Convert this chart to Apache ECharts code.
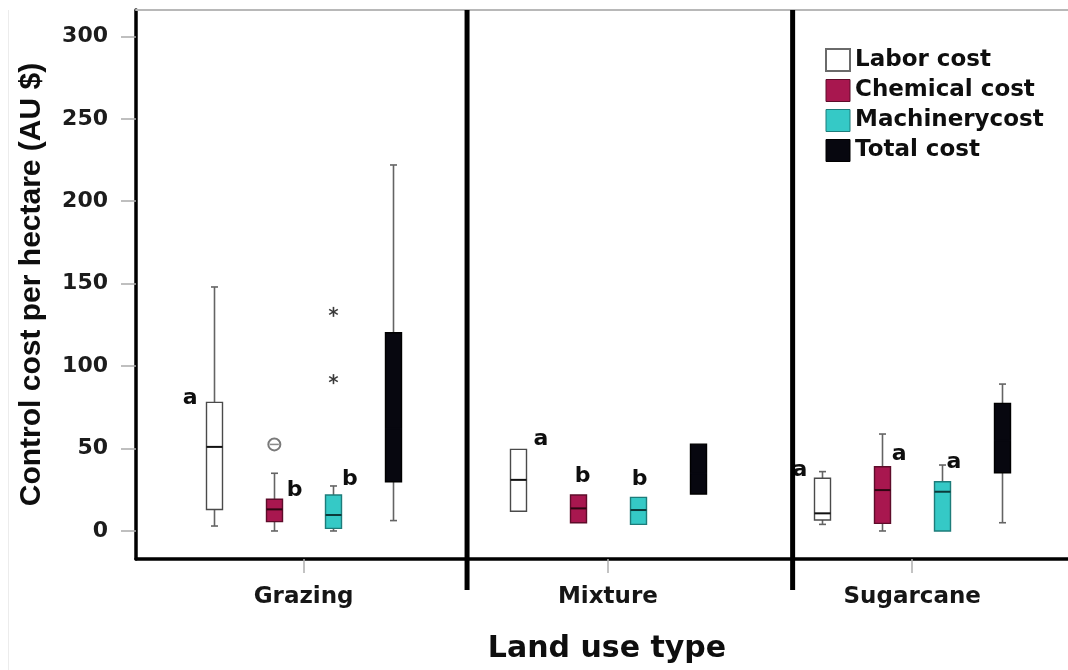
<!DOCTYPE html>
<html>
<head>
<meta charset="utf-8">
<script src="https://cdn.jsdelivr.net/npm/echarts@6/dist/echarts.min.js"></script>
<style>
  html, body { margin: 0; padding: 0; background: #ffffff; }
  #chart { width: 1068px; height: 670px; }
</style>
</head>
<body>
<div id="chart"></div>
<script>
// Land use categories and cost components
const landUse = ['Grazing', 'Mixture', 'Sugarcane'];
const costTypes = ['Labor cost', 'Chemical cost', 'Machinerycost', 'Total cost'];
const yTicks = [0, 50, 100, 150, 200, 250, 300];
const xTicks = [0, 1, 2];

// Box statistics per land use: [lower whisker, Q1, median, Q3, upper whisker]
const laborCost     = [[3, 13, 51, 78, 148], [12, 12, 31, 49.5, 49.5], [4, 6.7, 10.7, 32, 36]];
const chemicalCost  = [[0, 5.7, 13.1, 19.2, 35], [5, 5, 13.7, 21.8, 21.8], [0, 4.6, 24.8, 39, 58.8]];
const machineryCost = [[0, 1.6, 9.7, 21.8, 27.3], [4, 4, 12.7, 20.4, 20.4], [0, 0, 23.8, 29.9, 40]];
const totalCost     = [[6.3, 29.9, 62, 120.2, 222], [22.4, 22.4, 35, 52.7, 52.7], [5, 35.3, 55, 77.4, 89.1]];

// Outliers (circle) and extreme values (star): [land use index, value]
const chemicalOutliers = [[0, 52.5]];
const machineryExtremes = [[0, 92.1], [0, 132.9]];

// Significance letters: [x position on land use scale, value, letter]
const sigLetters = [
  [-0.373, 80.4, 'a'], [-0.030, 24.8, 'b'], [0.152, 31.3, 'b'],
  [0.780, 55.6, 'a'], [0.917, 32.9, 'b'], [1.104, 31.3, 'b'],
  [1.631, 37.0, 'a'], [1.957, 46.7, 'a'], [2.137, 41.4, 'a']
];

// Panel separators on the land use scale
const dividerAt = [0.537, 1.607];

// ---- styling / layout ----
const offsets = [-0.295, -0.098, 0.098, 0.295];   // box offsets within a land use group
const boxStyles = [
  { fill: '#ffffff', stroke: '#4a4a4a', median: '#111111' },
  { fill: '#a8174f', stroke: '#5e0c2a', median: '#2e0612' },
  { fill: '#35c9c6', stroke: '#1d7c7a', median: '#0c3a3a' },
  { fill: '#07070f', stroke: '#000000', median: '#07070f' }
];
const whiskerColor = '#646464';
const BOX_HALF = 8;
const CAP_HALF = 3.5;

function boxRenderer(k) {
  const st = boxStyles[k];
  return function (params, api) {
    const x = api.value(0) + offsets[k];
    const lo = api.coord([x, api.value(1)]);
    const q1 = api.coord([x, api.value(2)]);
    const md = api.coord([x, api.value(3)]);
    const q3 = api.coord([x, api.value(4)]);
    const hi = api.coord([x, api.value(5)]);
    const cx = Math.round(lo[0]) + 0.5;
    const children = [];
    const line = (x1, y1, x2, y2, color, w) => ({
      type: 'line', shape: { x1, y1, x2, y2 },
      style: { stroke: color, lineWidth: w }
    });
    if (hi[1] < q3[1] - 0.5) {
      children.push(line(cx, hi[1], cx, q3[1], whiskerColor, 1.6));
      children.push(line(cx - CAP_HALF, hi[1], cx + CAP_HALF, hi[1], whiskerColor, 1.6));
    }
    if (lo[1] > q1[1] + 0.5) {
      children.push(line(cx, q1[1], cx, lo[1], whiskerColor, 1.6));
      children.push(line(cx - CAP_HALF, lo[1], cx + CAP_HALF, lo[1], whiskerColor, 1.6));
    }
    children.push({
      type: 'rect',
      shape: { x: cx - BOX_HALF, y: q3[1], width: BOX_HALF * 2, height: q1[1] - q3[1] },
      style: { fill: st.fill, stroke: st.stroke, lineWidth: 1.4 }
    });
    children.push(line(cx - BOX_HALF, md[1], cx + BOX_HALF, md[1], st.median, 2));
    return { type: 'group', children };
  };
}

const boxData = [laborCost, chemicalCost, machineryCost, totalCost]
  .map(arr => arr.map((d, i) => [i].concat(d)));

const boxSeries = costTypes.map((name, k) => ({
  name,
  type: 'custom',
  renderItem: boxRenderer(k),
  itemStyle: { color: boxStyles[k].fill, borderColor: boxStyles[k].stroke },
  encode: { x: 0, y: [1, 2, 3, 4, 5] },
  data: boxData[k],
  z: 3
}));

const chart = echarts.init(document.getElementById('chart'), null, { renderer: 'canvas' });

const option = {
  backgroundColor: '#ffffff',
  animation: false,
  grid: { left: 136, right: 0, top: 10, bottom: 111, containLabel: false, outerBoundsMode: 'none' },
  legend: {
    orient: 'vertical',
    left: 820, top: 43,
    icon: 'rect',
    itemWidth: 24, itemHeight: 22, itemGap: 7,
    selectedMode: false,
    textStyle: { fontFamily: 'DejaVu Sans', fontWeight: 'bold', fontSize: 23, color: '#0e0e0e' },
    data: costTypes.map((name, k) => ({
      name,
      itemStyle: { color: boxStyles[k].fill, borderColor: k === 0 ? '#6a6a6a' : boxStyles[k].stroke, borderWidth: k === 0 ? 2 : 1 }
    }))
  },
  xAxis: [{
    type: 'value',
    min: -0.551, max: 2.512,
    name: 'Land use type',
    nameLocation: 'middle',
    nameGap: 75,
    nameTextStyle: { fontFamily: 'DejaVu Sans', fontWeight: 'bold', fontSize: 30, color: '#0e0e0e', padding: [0, 0, 0, 10] },
    axisLine: { show: true, onZero: false, lineStyle: { color: '#000', width: 3.5 } },
    axisTick: { show: true, customValues: xTicks, length: 14, lineStyle: { color: '#b0b0b0', width: 1.5 } },
    axisLabel: {
      show: true, customValues: xTicks, margin: 27,
      formatter: v => landUse[Math.round(v)],
      fontFamily: 'DejaVu Sans', fontWeight: 'bold', fontSize: 23, color: '#161616'
    },
    splitLine: { show: false }
  }, {
    type: 'value',
    position: 'top',
    min: -0.551, max: 2.512,
    axisLine: { show: true, onZero: false, lineStyle: { color: '#b8b8b8', width: 2 } },
    axisTick: { show: false },
    axisLabel: { show: false },
    splitLine: { show: false }
  }],
  yAxis: {
    type: 'value',
    min: -17, max: 316,
    name: 'Control cost per hectare (AU $)',
    nameLocation: 'middle',
    nameRotate: 90,
    nameGap: 89,
    nameTextStyle: { fontFamily: 'Liberation Sans', fontWeight: 'bold', fontSize: 30, color: '#0e0e0e' },
    axisLine: { show: true, onZero: false, lineStyle: { color: '#000', width: 3.5 } },
    axisTick: { show: true, customValues: yTicks, length: 15, lineStyle: { color: '#aaaaaa', width: 1.5 } },
    axisLabel: {
      show: true, customValues: yTicks, margin: 28,
      fontFamily: 'DejaVu Sans', fontWeight: 'bold', fontSize: 22, color: '#1c1c1c'
    },
    splitLine: { show: false }
  },
  graphic: [{
    type: 'line', silent: true, z: -1,
    shape: { x1: 8.5, y1: 10, x2: 8.5, y2: 670 },
    style: { stroke: '#ececec', lineWidth: 1 }
  }],
  series: boxSeries.concat([
    {
      name: 'outliers',
      type: 'custom',
      z: 4,
      data: chemicalOutliers.map(d => [d[0] + offsets[1], d[1]]),
      renderItem: (params, api) => {
        const p = api.coord([api.value(0), api.value(1)]);
        return {
          type: 'group', children: [
            { type: 'circle', shape: { cx: p[0] + 0.5, cy: p[1], r: 6 }, style: { fill: 'none', stroke: '#7a7a7a', lineWidth: 2 } },
            { type: 'line', shape: { x1: p[0] - 4, y1: p[1], x2: p[0] + 5, y2: p[1] }, style: { stroke: '#8a8a8a', lineWidth: 1.5 } }
          ]
        };
      }
    },
    {
      name: 'extremes',
      type: 'custom',
      z: 4,
      data: machineryExtremes.map(d => [d[0] + offsets[2], d[1]]),
      renderItem: (params, api) => {
        const p = api.coord([api.value(0), api.value(1)]);
        const r = 5;
        const kids = [];
        for (let a = 0; a < 3; a++) {
          const ang = Math.PI / 2 + a * Math.PI / 3;
          kids.push({
            type: 'line',
            shape: { x1: p[0] - r * Math.cos(ang), y1: p[1] - r * Math.sin(ang), x2: p[0] + r * Math.cos(ang), y2: p[1] + r * Math.sin(ang) },
            style: { stroke: '#3a3a3a', lineWidth: 1.6 }
          });
        }
        return { type: 'group', children: kids };
      }
    },
    {
      name: 'letters',
      type: 'custom',
      z: 5,
      data: sigLetters.map(d => [d[0], d[1]]),
      renderItem: (params, api) => {
        const p = api.coord([api.value(0), api.value(1)]);
        return {
          type: 'text',
          style: {
            text: sigLetters[params.dataIndex][2],
            x: p[0], y: p[1],
            fill: '#0e0e0e',
            font: 'bold 22px "DejaVu Sans"',
            align: 'center', verticalAlign: 'middle'
          }
        };
      }
    },
    {
      name: 'dividers',
      type: 'custom',
      z: 6,
      clip: false,
      data: dividerAt.map(v => [v, 0]),
      renderItem: (params, api) => {
        const x = api.coord([api.value(0), 0])[0];
        const cs = params.coordSys;
        return {
          type: 'line',
          shape: { x1: x, y1: cs.y, x2: x, y2: cs.y + cs.height + 31 },
          style: { stroke: '#000', lineWidth: 5 }
        };
      }
    }
  ])
};

chart.setOption(option);
</script>
</body>
</html>
